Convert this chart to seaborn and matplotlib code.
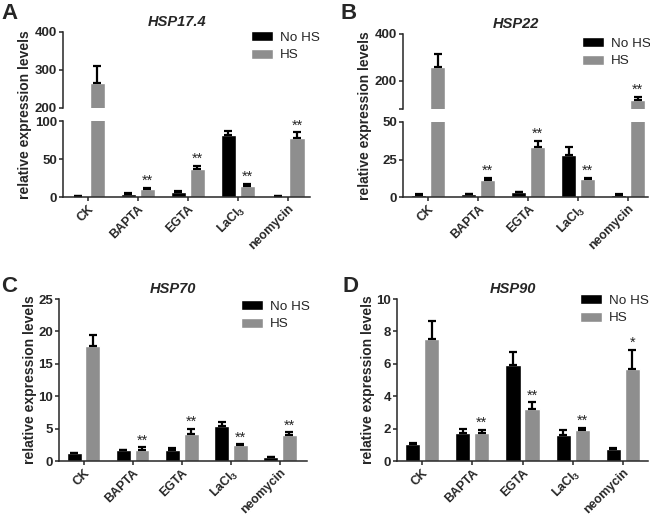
import numpy as np
import pandas as pd
import seaborn as sns
from matplotlib import pyplot as plt

# ------------------------------- Data --------------------------------
categories = ["CK", "BAPTA", "EGTA", "LaCl$_3$", "neomycin"]
treatments = ["No HS", "HS"]

hsp17_nohs = [1.5, 4.5, 7.0, 82.0, 1.5]
hsp17_nohs_err = [0.3, 0.8, 1.0, 5.0, 0.3]
hsp17_hs = [267.0, 10.0, 37.0, 15.0, 77.0]
hsp17_hs_err = [44.0, 2.5, 4.0, 2.0, 8.0]

hsp22_nohs = [1.5, 1.8, 3.1, 28.0, 1.5]
hsp22_nohs_err = [0.2, 0.2, 0.5, 5.3, 0.2]
hsp22_hs = [260.0, 11.2, 33.5, 11.8, 118.0]
hsp22_hs_err = [53.0, 1.4, 3.8, 0.8, 13.0]

hsp70_nohs = [1.18, 1.65, 1.65, 5.45, 0.62]
hsp70_nohs_err = [0.1, 0.08, 0.3, 0.5, 0.05]
hsp70_hs = [17.8, 1.75, 4.2, 2.45, 4.0]
hsp70_hs_err = [1.7, 0.35, 0.8, 0.12, 0.4]

hsp90_nohs = [1.07, 1.7, 5.9, 1.6, 0.74]
hsp90_nohs_err = [0.04, 0.28, 0.83, 0.29, 0.04]
hsp90_hs = [7.55, 1.75, 3.23, 1.91, 5.66]
hsp90_hs_err = [1.1, 0.18, 0.39, 0.15, 1.19]

stars_abc = ["", "**", "**", "**", "**"]
stars_d = ["", "**", "**", "**", "*"]

colors = ["#000000", "#8e8e8e"]

# ------------------------------- Style --------------------------------
sns.set_style("ticks")
plt.rcParams['font.family'] = ['Liberation Sans', 'DejaVu Sans']
plt.rcParams['mathtext.fontset'] = 'custom'
plt.rcParams['mathtext.rm'] = 'Liberation Sans:bold'
plt.rcParams['mathtext.bf'] = 'Liberation Sans:bold'
plt.rcParams['axes.linewidth'] = 1.1
plt.rcParams['xtick.major.width'] = 1.1
plt.rcParams['ytick.major.width'] = 1.1
plt.rcParams['xtick.major.size'] = 3.2
plt.rcParams['ytick.major.size'] = 3.2
plt.rcParams['xtick.major.pad'] = 0.8
plt.rcParams['ytick.major.pad'] = 1.2

W, H = 650, 516
fig = plt.figure(figsize=(6.5, 5.16), dpi=100)


def px_axes(left, top, right, bottom):
    # axes from pixel box (origin top-left)
    return fig.add_axes([left / W, 1 - bottom / H, (right - left) / W, (bottom - top) / H])


def make_df(nohs, hs):
    return pd.DataFrame({
        'category': categories * 2,
        'treatment': [treatments[0]] * 5 + [treatments[1]] * 5,
        'value': list(nohs) + list(hs),
    })


def draw_bars(ax, nohs, nohs_err, hs, hs_err, xmax):
    df = make_df(nohs, hs)
    sns.barplot(data=df, x='category', y='value', hue='treatment', hue_order=treatments,
                palette=colors, width=0.76, gap=0.2, errorbar=None, saturation=1,
                legend=False, ax=ax)
    for cont, err in zip(ax.containers, [nohs_err, hs_err]):
        xs = [b.get_x() + b.get_width() / 2 for b in cont]
        ys = [b.get_height() for b in cont]
        ax.errorbar(xs, ys, yerr=[np.zeros(len(err)), err], fmt='none', ecolor='black',
                    elinewidth=1.6, capsize=3, capthick=1.6)
    ax.set_xlim(-0.5, xmax)
    ax.set_xlabel('')
    ax.set_ylabel('')
    ax.tick_params(axis='both', labelsize=9.5)


def add_stars(axes, hs, hs_err, stars):
    for i, s in enumerate(stars):
        if not s:
            continue
        top = hs[i] + hs_err[i]
        for ax in axes:
            lo, hi = ax.get_ylim()
            if lo <= top <= hi:
                x = ax.containers[1][i].get_x() + ax.containers[1][i].get_width() / 2
                ax.annotate(s, (x, top), xytext=(0, 0), textcoords='offset points',
                            ha='center', va='bottom', fontsize=10.5, annotation_clip=False)
                break


def set_yticks(ax, ticks, labels=None):
    ax.set_yticks(ticks)
    if labels is None:
        labels = [str(t) for t in ticks]
    ax.set_yticklabels(labels, fontweight='bold', fontsize=9.5)


def style_xaxis(ax):
    ax.set_xticks(range(len(categories)))
    ax.set_xticklabels(categories, rotation=45, ha='right', va='top',
                       rotation_mode='anchor', fontweight='bold', fontsize=8.9)
    sns.despine(ax=ax)


def add_legend(ax, x, y):
    handles = [ax.containers[0], ax.containers[1]]
    ax.legend(handles, treatments, loc='upper left', bbox_to_anchor=(x / W, 1 - y / H),
              bbox_transform=fig.transFigure, frameon=False, fontsize=9.7,
              handlelength=1.6, handleheight=0.8, handletextpad=0.55, labelspacing=0.35,
              borderpad=0, borderaxespad=0)


def add_ylabel(x, ytop, ybot):
    fig.text(x / W, 1 - (ytop + ybot) / 2 / H, 'relative expression levels', rotation=90,
             ha='center', va='center', fontsize=10, fontweight='bold')


def add_title(ax, title):
    ax.set_title(title, fontsize=10.5, fontweight='bold', fontstyle='italic', pad=4, x=0.46)


def broken_panel(left, right, top, break_top, break_bot, bottom, nohs, nohs_err, hs, hs_err,
                 top_lim, top_ticks, top_labels, bot_lim, bot_ticks, title, xmax):
    ax_top = px_axes(left, top, right, break_top)
    ax_bot = px_axes(left, break_bot, right, bottom)
    for ax in (ax_top, ax_bot):
        draw_bars(ax, nohs, nohs_err, hs, hs_err, xmax)
    ax_top.set_ylim(*top_lim)
    set_yticks(ax_top, top_ticks, top_labels)
    ax_top.tick_params(axis='x', bottom=False, labelbottom=False)
    sns.despine(ax=ax_top, bottom=True)
    ax_bot.set_ylim(*bot_lim)
    set_yticks(ax_bot, bot_ticks)
    style_xaxis(ax_bot)
    add_title(ax_top, title)
    return ax_top, ax_bot


# ------------------------------- Panel A --------------------------------
a_top, a_bot = broken_panel(63, 310, 32, 108, 121, 197, hsp17_nohs, hsp17_nohs_err, hsp17_hs,
                            hsp17_hs_err, (200, 400), [200, 300, 400], ['200', '300', '400'],
                            (0, 100), [0, 50, 100], 'HSP17.4', 4.45)
add_stars([a_bot, a_top], hsp17_hs, hsp17_hs_err, stars_abc)
add_legend(a_top, 251, 31)
add_ylabel(25, 32, 197)

# ------------------------------- Panel B --------------------------------
b_top, b_bot = broken_panel(403, 648, 34, 109, 122, 197, hsp22_nohs, hsp22_nohs_err, hsp22_hs,
                            hsp22_hs_err, (80, 400), [80, 200, 400], ['', '200', '400'],
                            (0, 50), [0, 25, 50], 'HSP22', 4.4)
add_stars([b_bot, b_top], hsp22_hs, hsp22_hs_err, stars_abc)
add_legend(b_top, 582, 37)
add_ylabel(365, 34, 197)

# ------------------------------- Panel C --------------------------------
c_ax = px_axes(59, 299, 307, 461)
draw_bars(c_ax, hsp70_nohs, hsp70_nohs_err, hsp70_hs, hsp70_hs_err, 4.55)
c_ax.set_ylim(0, 25)
set_yticks(c_ax, [0, 5, 10, 15, 20, 25])
style_xaxis(c_ax)
add_title(c_ax, 'HSP70')
add_stars([c_ax], hsp70_hs, hsp70_hs_err, stars_abc)
add_legend(c_ax, 241, 300)
add_ylabel(30, 299, 461)

# ------------------------------- Panel D --------------------------------
d_ax = px_axes(397, 299, 648, 461)
draw_bars(d_ax, hsp90_nohs, hsp90_nohs_err, hsp90_hs, hsp90_hs_err, 4.5)
d_ax.set_ylim(0, 10)
set_yticks(d_ax, [0, 2, 4, 6, 8, 10])
style_xaxis(d_ax)
add_title(d_ax, 'HSP90')
add_stars([d_ax], hsp90_hs, hsp90_hs_err, stars_d)
add_legend(d_ax, 580, 294)
add_ylabel(368, 299, 461)

# ------------------------------- Panel letters --------------------------------
for letter, x, y in [('A', 1, 3), ('B', 340, 3), ('C', 1, 276), ('D', 342, 276)]:
    fig.text(x / W, 1 - y / H, letter, ha='left', va='top', fontsize=16, fontweight='bold')

fig.savefig('out.png', dpi=100)
